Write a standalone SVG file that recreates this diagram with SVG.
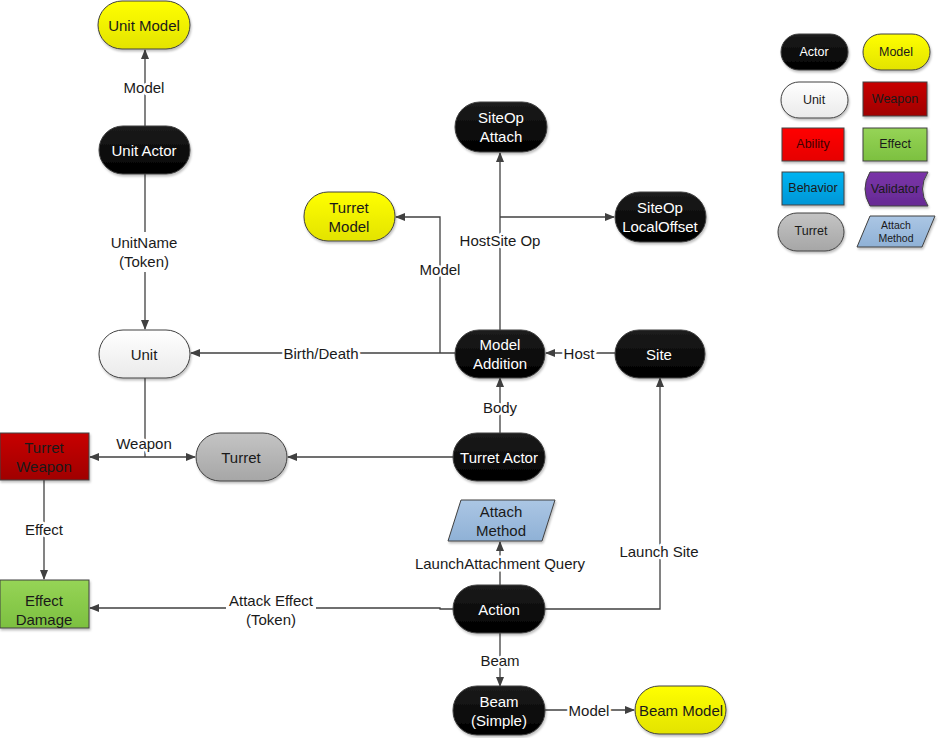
<svg xmlns="http://www.w3.org/2000/svg" width="938" height="738" viewBox="0 0 938 738">
<defs>
<linearGradient id="gActor" x1="0" y1="0" x2="0" y2="1"><stop offset="0" stop-color="#1c1c1c"/><stop offset="1" stop-color="#000"/></linearGradient>
<linearGradient id="gModel" x1="0" y1="0" x2="0" y2="1"><stop offset="0" stop-color="#ffff00"/><stop offset="1" stop-color="#e3e300"/></linearGradient>
<linearGradient id="gUnit" x1="0" y1="0" x2="0" y2="1"><stop offset="0" stop-color="#ffffff"/><stop offset="1" stop-color="#eaeaea"/></linearGradient>
<linearGradient id="gWeapon" x1="0" y1="0" x2="0" y2="1"><stop offset="0" stop-color="#c80000"/><stop offset="1" stop-color="#a00000"/></linearGradient>
<linearGradient id="gAbility" x1="0" y1="0" x2="0" y2="1"><stop offset="0" stop-color="#ff0000"/><stop offset="1" stop-color="#e60000"/></linearGradient>
<linearGradient id="gEffect" x1="0" y1="0" x2="0" y2="1"><stop offset="0" stop-color="#96d456"/><stop offset="1" stop-color="#7cc040"/></linearGradient>
<linearGradient id="gBehavior" x1="0" y1="0" x2="0" y2="1"><stop offset="0" stop-color="#00b4f2"/><stop offset="1" stop-color="#0096d6"/></linearGradient>
<linearGradient id="gValidator" x1="0" y1="0" x2="0" y2="1"><stop offset="0" stop-color="#7a34a8"/><stop offset="1" stop-color="#662a94"/></linearGradient>
<linearGradient id="gTurret" x1="0" y1="0" x2="0" y2="1"><stop offset="0" stop-color="#c4c4c4"/><stop offset="1" stop-color="#a6a6a6"/></linearGradient>
<linearGradient id="gAttach" x1="0" y1="0" x2="0" y2="1"><stop offset="0" stop-color="#abc6e4"/><stop offset="1" stop-color="#8fb1d6"/></linearGradient>
<filter id="sh" x="-10%" y="-10%" width="130%" height="140%"><feDropShadow dx="1" dy="2" stdDeviation="1.2" flood-color="#000" flood-opacity="0.25"/></filter>
<marker id="ar" markerWidth="10" markerHeight="10" refX="9" refY="5" orient="auto" markerUnits="userSpaceOnUse"><path d="M0,1 L10,5 L0,9 Z" fill="#404040"/></marker>
<style>
.n{stroke:#404040;stroke-width:1;filter:url(#sh)}
.t{font-family:"Liberation Sans",Arial,sans-serif;font-size:15px;text-anchor:middle;dominant-baseline:central}
.w{fill:#fff}
.d{fill:#1a1a1a}
.lg{font-size:12.5px}
.sm{font-size:10.5px}
.c{fill:none;stroke:#404040;stroke-width:1.3}
.a{marker-end:url(#ar)}
.bg{fill:#fff}
.lb{font-family:"Liberation Sans",Arial,sans-serif;font-size:15px;text-anchor:middle;dominant-baseline:central;fill:#1a1a1a;stroke:#fff;stroke-width:5;paint-order:stroke;stroke-linejoin:round}
</style>
</defs>
<rect width="938" height="738" fill="#fff"/>

<g id="connectors">
<path class="c a" d="M145,126 V50"/>
<path class="c a" d="M145,174 V329"/>
<path class="c a" d="M455,353 H191"/>
<path class="c a" d="M440,353 V217 H396"/>
<path class="c a" d="M500,330 V153"/>
<path class="c a" d="M500,217 H614"/>
<path class="c a" d="M615,353 H546"/>
<path class="c a" d="M500,433 V378"/>
<path class="c a" d="M453,457 H288"/>
<path class="c" d="M145,378 V457"/>
<path class="c a" d="M145,457 H90"/>
<path class="c a" d="M145,457 H195"/>
<path class="c a" d="M44,480 V579"/>
<path class="c a" d="M453,609 H440 V608 H90"/>
<path class="c a" d="M500,585 V542"/>
<path class="c a" d="M545,609 H660 V378"/>
<path class="c a" d="M500,633 V686"/>
<path class="c a" d="M545,710 H634"/>
<rect class="bg" x="108" y="232" width="72" height="40"/>
<rect class="bg" x="226" y="590" width="90" height="40"/>
<text class="lb" x="144" y="87">Model</text>
<text class="lb" x="144" y="242">UnitName</text>
<text class="lb" x="144" y="261">(Token)</text>
<text class="lb" x="321" y="353">Birth/Death</text>
<text class="lb" x="440" y="269">Model</text>
<text class="lb" x="500" y="240">HostSite Op</text>
<text class="lb" x="579" y="353">Host</text>
<text class="lb" x="500" y="407">Body</text>
<text class="lb" x="144" y="443">Weapon</text>
<text class="lb" x="44" y="529">Effect</text>
<text class="lb" x="271" y="600">Attack Effect</text>
<text class="lb" x="271" y="619">(Token)</text>
<text class="lb" x="500" y="563">LaunchAttachment Query</text>
<text class="lb" x="659" y="551">Launch Site</text>
<text class="lb" x="500" y="660">Beam</text>
<text class="lb" x="589" y="710">Model</text>
</g>

<g id="unit-model"><rect class="n" x="98" y="1" width="92" height="48" rx="24" fill="url(#gModel)"/><text class="t d" x="144" y="25">Unit Model</text></g>
<g id="unit-actor"><rect class="n" x="99" y="126" width="91" height="48" rx="24" fill="url(#gActor)"/><text class="t w" x="144" y="150">Unit Actor</text></g>
<g id="unit"><rect class="n" x="99" y="330" width="91" height="48" rx="24" fill="url(#gUnit)"/><text class="t d" x="144" y="354">Unit</text></g>
<g id="turret"><rect class="n" x="196" y="433" width="91" height="48" rx="24" fill="url(#gTurret)"/><text class="t d" x="241" y="457">Turret</text></g>
<g id="turret-weapon"><rect class="n" x="0" y="433" width="89" height="47" fill="url(#gWeapon)"/><text class="t d" x="44" y="447">Turret</text><text class="t d" x="44" y="466">Weapon</text></g>
<g id="effect-damage"><rect class="n" x="0" y="580" width="89" height="48" fill="url(#gEffect)"/><text class="t d" x="44" y="600">Effect</text><text class="t d" x="44" y="619">Damage</text></g>
<g id="turret-model"><rect class="n" x="304" y="192" width="91" height="49" rx="24" fill="url(#gModel)"/><text class="t d" x="349" y="207">Turret</text><text class="t d" x="349" y="226">Model</text></g>
<g id="siteop-attach"><rect class="n" x="455" y="102" width="92" height="50" rx="25" fill="url(#gActor)"/><text class="t w" x="501" y="117">SiteOp</text><text class="t w" x="501" y="136">Attach</text></g>
<g id="siteop-localoffset"><rect class="n" x="615" y="192" width="91" height="50" rx="25" fill="url(#gActor)"/><text class="t w" x="660" y="207">SiteOp</text><text class="t w" x="660" y="226">LocalOffset</text></g>
<g id="model-addition"><rect class="n" x="455" y="330" width="90" height="48" rx="24" fill="url(#gActor)"/><text class="t w" x="500" y="344">Model</text><text class="t w" x="500" y="363">Addition</text></g>
<g id="site"><rect class="n" x="615" y="330" width="90" height="48" rx="24" fill="url(#gActor)"/><text class="t w" x="659" y="354">Site</text></g>
<g id="turret-actor"><rect class="n" x="453" y="433" width="92" height="48" rx="24" fill="url(#gActor)"/><text class="t w" x="499" y="457">Turret Actor</text></g>
<g id="attach-method"><polygon class="n" points="461,500 555,500 542,541 448,541" fill="url(#gAttach)"/><text class="t d" x="501" y="511">Attach</text><text class="t d" x="501" y="530">Method</text></g>
<g id="action"><rect class="n" x="453" y="585" width="92" height="48" rx="24" fill="url(#gActor)"/><text class="t w" x="499" y="609">Action</text></g>
<g id="beam-simple"><rect class="n" x="453" y="686" width="92" height="49" rx="24" fill="url(#gActor)"/><text class="t w" x="499" y="701">Beam</text><text class="t w" x="499" y="720">(Simple)</text></g>
<g id="beam-model"><rect class="n" x="635" y="686" width="91" height="48" rx="24" fill="url(#gModel)"/><text class="t d" x="681" y="710">Beam Model</text></g>

<g id="legend">
<g id="lg-actor"><rect class="n" x="781" y="34" width="67" height="36" rx="18" fill="url(#gActor)"/><text class="t w lg" x="814" y="52">Actor</text></g>
<g id="lg-model"><rect class="n" x="863" y="34" width="67" height="36" rx="18" fill="url(#gModel)"/><text class="t d lg" x="896" y="52">Model</text></g>
<g id="lg-unit"><rect class="n" x="781" y="82" width="67" height="36" rx="18" fill="url(#gUnit)"/><text class="t d lg" x="814" y="100">Unit</text></g>
<g id="lg-weapon"><rect class="n" x="863" y="82" width="64" height="34" fill="url(#gWeapon)"/><text class="t d lg" x="895" y="99">Weapon</text></g>
<g id="lg-ability"><rect class="n" x="782" y="128" width="62" height="33" fill="url(#gAbility)"/><text class="t lg" fill="#400000" x="813" y="144">Ability</text></g>
<g id="lg-effect"><rect class="n" x="863" y="128" width="64" height="33" fill="url(#gEffect)"/><text class="t d lg" x="895" y="144">Effect</text></g>
<g id="lg-behavior"><rect class="n" x="782" y="172" width="62" height="33" fill="url(#gBehavior)"/><text class="t d lg" x="813" y="188">Behavior</text></g>
<g id="lg-validator"><path class="n" d="M870,172 H928 Q917,189 928,206 H870 Q860,189 870,172 Z" fill="url(#gValidator)"/><text class="t d lg" x="895" y="189">Validator</text></g>
<g id="lg-turret"><rect class="n" x="778" y="213" width="66" height="38" rx="19" fill="url(#gTurret)"/><text class="t d lg" x="811" y="231">Turret</text></g>
<g id="lg-attach"><polygon class="n" points="870,216 935,216 922,247 857,247" fill="url(#gAttach)"/><text class="t d sm" x="896" y="225">Attach</text><text class="t d sm" x="896" y="238">Method</text></g>
</g>
</svg>
